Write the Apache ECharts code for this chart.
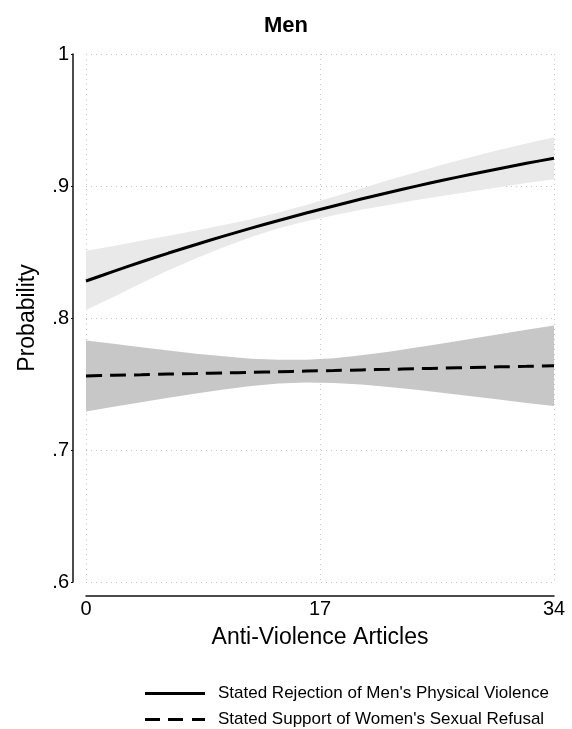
<!DOCTYPE html>
<html>
<head>
<meta charset="utf-8">
<script src="https://cdn.jsdelivr.net/npm/echarts@6/dist/echarts.min.js"></script>
<style>
  html, body { margin: 0; padding: 0; background: #fff; }
  #chart { width: 572px; height: 729px; }
</style>
</head>
<body>
<div id="chart"></div>
<script>
// x values (number of anti-violence articles)
var articles = [0, 2, 4, 6, 8, 10, 12, 14, 16, 18, 20, 22, 24, 26, 28, 30, 32, 34];

// Stated rejection of men's physical violence
var rejectFit   = [0.8280, 0.8353, 0.8424, 0.8492, 0.8557, 0.8620, 0.8681, 0.8739, 0.8795, 0.8849, 0.8901, 0.8951, 0.8999, 0.9045, 0.9089, 0.9131, 0.9172, 0.9210];
var rejectUpper = [0.8510, 0.8546, 0.8585, 0.8623, 0.8662, 0.8704, 0.8749, 0.8799, 0.8857, 0.8919, 0.8982, 0.9045, 0.9105, 0.9164, 0.9219, 0.9272, 0.9322, 0.9369];
var rejectLower = [0.8060, 0.8160, 0.8263, 0.8361, 0.8452, 0.8536, 0.8613, 0.8679, 0.8733, 0.8779, 0.8820, 0.8857, 0.8893, 0.8926, 0.8959, 0.8990, 0.9022, 0.9051];

// Stated support of women's sexual refusal
var supportFit   = [0.7561, 0.7566, 0.7570, 0.7575, 0.7579, 0.7584, 0.7588, 0.7593, 0.7598, 0.7602, 0.7607, 0.7611, 0.7616, 0.7620, 0.7625, 0.7630, 0.7634, 0.7639];
var supportUpper = [0.7830, 0.7804, 0.7778, 0.7754, 0.7730, 0.7710, 0.7692, 0.7683, 0.7684, 0.7696, 0.7718, 0.7745, 0.7776, 0.7808, 0.7842, 0.7877, 0.7911, 0.7944];
var supportLower = [0.7292, 0.7328, 0.7362, 0.7396, 0.7428, 0.7458, 0.7484, 0.7503, 0.7512, 0.7508, 0.7496, 0.7477, 0.7456, 0.7432, 0.7408, 0.7383, 0.7357, 0.7334];

var xTicks = [0, 17, 34];
var seriesNames = ["Stated Rejection of Men's Physical Violence", "Stated Support of Women's Sexual Refusal"];

var font = '"Liberation Sans", Arial, Helvetica, sans-serif';

function pairs(ys) {
  return articles.map(function (x, i) { return [x, ys[i]]; });
}

// confidence band as one polygon, upper edge then lower edge reversed
function bandSeries(name, up, lo, color) {
  return {
    name: name, type: 'custom', silent: true, z: 1,
    data: articles.map(function (x, i) { return [x, lo[i], up[i]]; }),
    encode: { x: 0, y: [1, 2] },
    renderItem: function (params, api) {
      if (params.dataIndex !== 0) return;
      var pts = [];
      for (var i = 0; i < articles.length; i++) pts.push(api.coord([articles[i], up[i]]));
      for (var j = articles.length - 1; j >= 0; j--) pts.push(api.coord([articles[j], lo[j]]));
      return { type: 'polygon', shape: { points: pts, smooth: 0 }, style: { fill: color } };
    }
  };
}

var chart = echarts.init(document.getElementById('chart'), null, { renderer: 'canvas' });

var option = {
  animation: false,
  backgroundColor: '#fff',
  textStyle: { fontFamily: font },
  title: {
    text: 'Men', left: 'center', top: 10,
    textStyle: { fontFamily: font, fontSize: 22, fontWeight: 'bold', color: '#000' }
  },
  grid: { left: 86, right: 18, top: 54, bottom: 147 },
  legend: {
    data: [
      { name: seriesNames[0], icon: 'path://M0,0H60V3H0Z' },
      { name: seriesNames[1], icon: 'path://M0,0H15V3H0Z M23,0H38V3H23Z M47,0H60V3H47Z' }
    ],
    orient: 'vertical',
    left: 140, top: 680, height: 60,
    itemWidth: 60, itemHeight: 3, itemGap: 9,
    itemStyle: { color: '#000' },
    textStyle: { fontFamily: font, fontSize: 17, color: '#000', padding: [0, 0, 0, 8] }
  },
  xAxis: {
    type: 'value', min: 0, max: 34, interval: 17,
    offset: 14,
    name: 'Anti-Violence Articles', nameLocation: 'middle', nameGap: 30,
    nameTextStyle: { fontFamily: font, fontSize: 23, color: '#000' },
    axisLine: { show: true, onZero: false, lineStyle: { color: '#111', width: 1.5 } },
    axisTick: { show: false },
    axisLabel: {
      fontFamily: font, fontSize: 20, color: '#000', margin: 3,
      formatter: function (v) { return xTicks.indexOf(v) >= 0 ? String(v) : ''; }
    },
    splitLine: { show: true, lineStyle: { color: '#c4c4c4', width: 1, type: [1, 4] } }
  },
  yAxis: {
    type: 'value', min: 0.6, max: 1, interval: 0.1,
    offset: 13,
    name: 'Probability', nameLocation: 'middle', nameGap: 34,
    nameTextStyle: { fontFamily: font, fontSize: 23, color: '#000' },
    axisLine: { show: true, onZero: false, lineStyle: { color: '#111', width: 1.5 } },
    axisTick: { show: true, length: 2, lineStyle: { color: '#111' } },
    axisLabel: {
      fontFamily: font, fontSize: 20, color: '#000', margin: 4,
      formatter: function (v) { return v >= 0.999 ? '1' : v.toFixed(1).replace(/^0/, ''); }
    },
    splitLine: { show: true, lineStyle: { color: '#c4c4c4', width: 1, type: [1, 4] } }
  },
  series: [
    bandSeries('reject-band', rejectUpper, rejectLower, '#e9e9e9'),
    bandSeries('support-band', supportUpper, supportLower, '#c7c7c7'),
    {
      name: seriesNames[0], type: 'line', data: pairs(rejectFit),
      symbol: 'none', smooth: 0.2, z: 3,
      lineStyle: { color: '#000', width: 3 }, itemStyle: { color: '#000' }
    },
    {
      name: seriesNames[1], type: 'line', data: pairs(supportFit),
      symbol: 'none', smooth: 0.2, z: 3,
      lineStyle: { color: '#000', width: 3, type: [16, 8] }, itemStyle: { color: '#000' }
    }
  ]
};

chart.setOption(option);
</script>
</body>
</html>
